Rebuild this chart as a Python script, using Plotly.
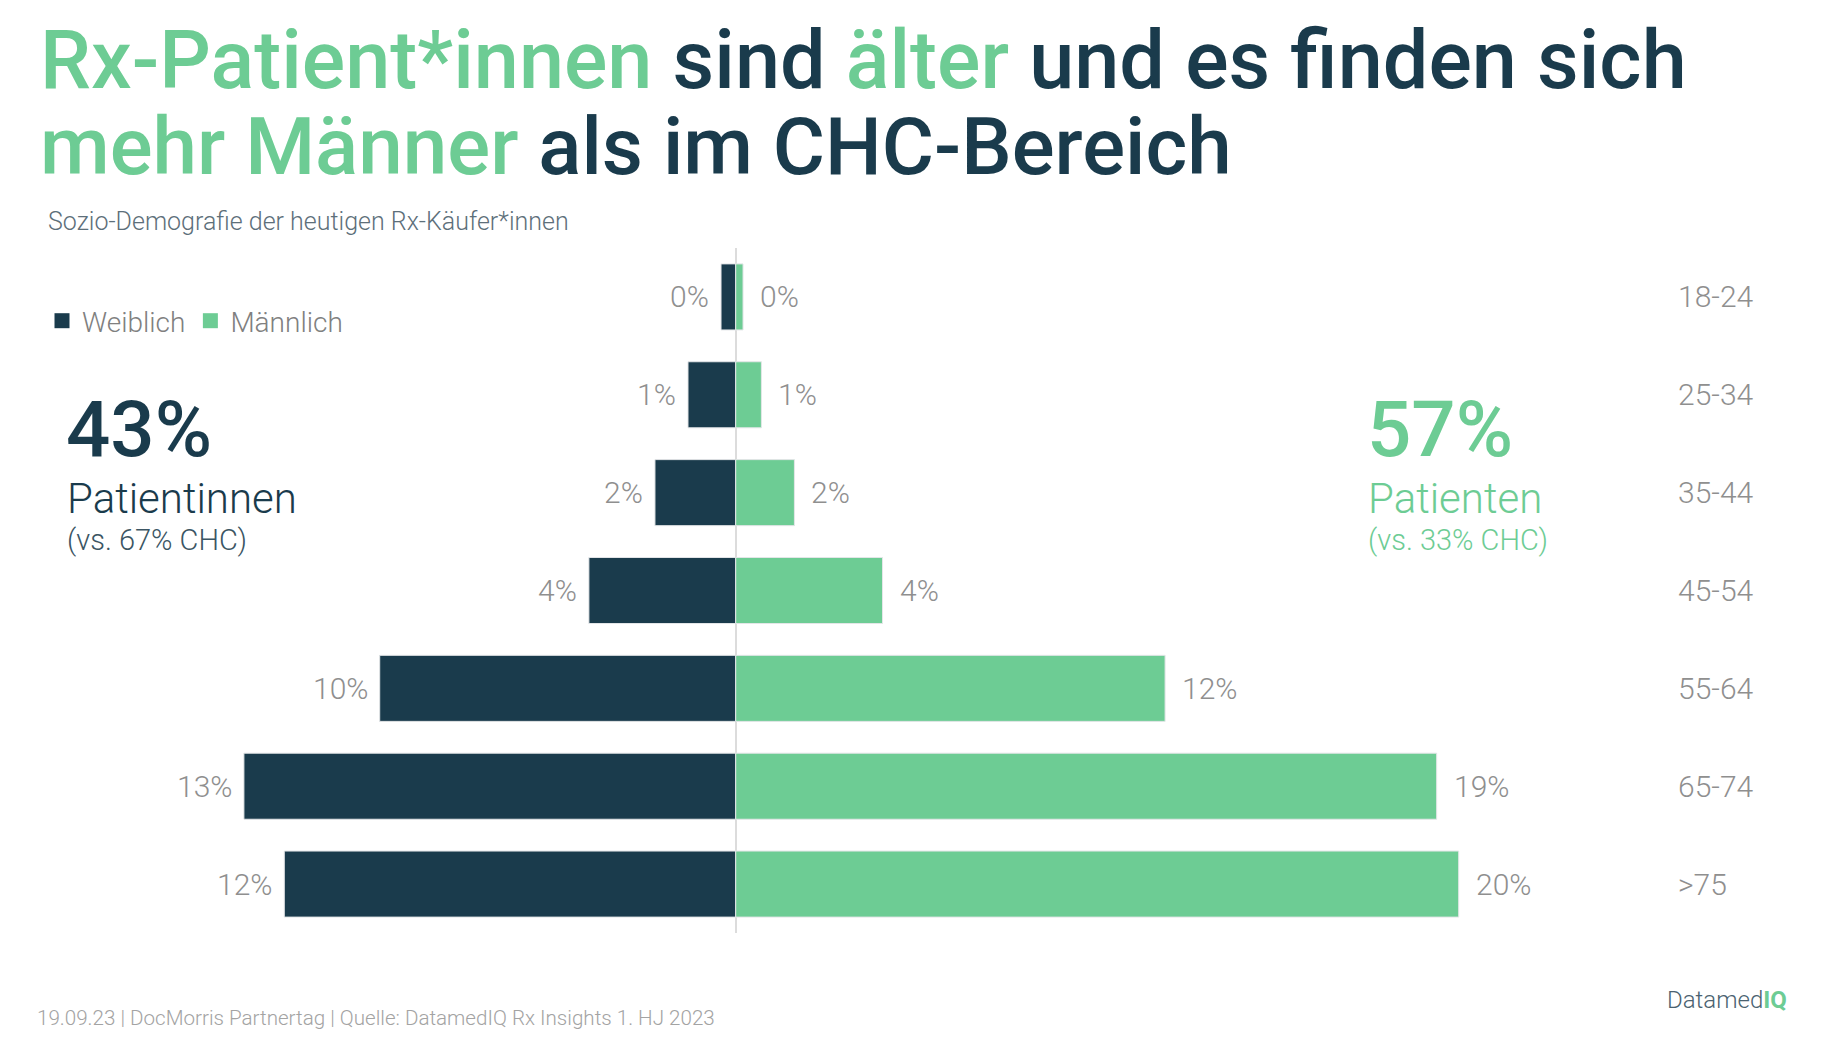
import plotly.graph_objects as go

# ---------------- data ----------------
age_groups = ["18-24", "25-34", "35-44", "45-54", "55-64", "65-74", ">75"]
female_share = [0.4, 1.3, 2.2, 4.0, 9.7, 13.4, 12.3]   # Weiblich, % of Rx patients
male_share = [0.2, 0.7, 1.6, 4.0, 11.7, 19.1, 19.7]    # Männlich, % of Rx patients
series_names = ["Weiblich", "Männlich"]
female_total = 43
male_total = 57
female_chc = 67
male_chc = 33

# ---------------- style ----------------
NAVY = "#1A3B4C"
GREEN = "#6DCC94"
GRAY = "#8f8f8f"
FONT = "Roboto"

OFF = 8                      # browser body margin
PAGE_W, PAGE_H = 1830, 1060
W, H = PAGE_W - 2 * OFF, PAGE_H - 2 * OFF

# plot area in page pixels
P_LEFT, P_RIGHT, P_TOP, P_BOTTOM = 8, 1663, 248, 933
ML = P_LEFT - OFF
MR = W - (P_RIGHT - OFF)
MT = P_TOP - OFF
MB = H - (P_BOTTOM - OFF)
PW = P_RIGHT - P_LEFT
PH = P_BOTTOM - P_TOP
X0_PX = 735.7          # page pixel position of the zero line
PX_PER_PCT = 36.7


def pxx(x):
    return (x - P_LEFT) / PW


def pxy(y):
    return (P_BOTTOM - y) / PH


fig = go.Figure()
colors = [NAVY, GREEN]
for name, vals, sign, col in [(series_names[0], female_share, -1, NAVY),
                              (series_names[1], male_share, 1, GREEN)]:
    fig.add_trace(go.Bar(
        y=age_groups, x=[sign * v for v in vals], orientation="h",
        name=name, legendgroup=name, showlegend=False,
        marker=dict(color=col, line=dict(color="#e4e6e8", width=1)),
        customdata=vals,
        hovertemplate="%{y}: %{customdata}%<extra>" + name + "</extra>",
    ))
# legend entries (square swatches)
for name, col in zip(series_names, colors):
    fig.add_trace(go.Scatter(
        x=[None], y=[None], mode="markers", name=name, legendgroup=name,
        marker=dict(symbol="square", size=15, color=col), hoverinfo="skip",
    ))

annotations = []
label_font = dict(family=FONT, size=30, color=GRAY, weight=300)
for g, v in zip(age_groups, female_share):
    annotations.append(dict(x=-v, y=g, xref="x", yref="y", text=f"{round(v)}%",
                            showarrow=False, xanchor="right", yanchor="middle",
                            xshift=-10, font=label_font))
for g, v in zip(age_groups, male_share):
    annotations.append(dict(x=v, y=g, xref="x", yref="y", text=f"{round(v)}%",
                            showarrow=False, xanchor="left", yanchor="middle",
                            xshift=15, font=label_font))

# title
g1 = f"<span style='color:{GREEN}'>Rx-Patient*innen</span> sind <span style='color:{GREEN}'>älter</span> und es finden sich"
g2 = f"<span style='color:{GREEN}'>mehr Männer</span> als im CHC-Bereich"
title_font = dict(family=FONT, size=81, color=NAVY, weight=500)
annotations.append(dict(x=pxx(38), y=pxy(11), xref="paper", yref="paper", text=g1,
                        showarrow=False, xanchor="left", yanchor="top", font=title_font))
annotations.append(dict(x=pxx(38), y=pxy(98), xref="paper", yref="paper", text=g2,
                        showarrow=False, xanchor="left", yanchor="top",
                        font=dict(family=FONT, size=80, color=NAVY, weight=500)))
annotations.append(dict(x=pxx(46), y=pxy(221), xref="paper", yref="paper",
                        text="Sozio-Demografie der heutigen Rx-Käufer*innen",
                        showarrow=False, xanchor="left", yanchor="middle",
                        font=dict(family=FONT, size=25, color="#5d6f7a", weight=300)))

# totals
annotations.append(dict(x=pxx(64), y=pxy(429), xref="paper", yref="paper",
                        text=f"{female_total}%", showarrow=False, xanchor="left", yanchor="middle",
                        font=dict(family=FONT, size=78, color=NAVY, weight=500)))
annotations.append(dict(x=pxx(65), y=pxy(498), xref="paper", yref="paper",
                        text="Patientinnen", showarrow=False, xanchor="left", yanchor="middle",
                        font=dict(family=FONT, size=42, color=NAVY, weight=300)))
annotations.append(dict(x=pxx(65), y=pxy(540), xref="paper", yref="paper",
                        text=f"(vs. {female_chc}% CHC)", showarrow=False, xanchor="left", yanchor="middle",
                        font=dict(family=FONT, size=29, color="#3b5563", weight=300)))

annotations.append(dict(x=pxx(1365), y=pxy(429), xref="paper", yref="paper",
                        text=f"{male_total}%", showarrow=False, xanchor="left", yanchor="middle",
                        font=dict(family=FONT, size=78, color=GREEN, weight=500)))
annotations.append(dict(x=pxx(1366), y=pxy(498), xref="paper", yref="paper",
                        text="Patienten", showarrow=False, xanchor="left", yanchor="middle",
                        font=dict(family=FONT, size=42, color=GREEN, weight=300)))
annotations.append(dict(x=pxx(1366), y=pxy(540), xref="paper", yref="paper",
                        text=f"(vs. {male_chc}% CHC)", showarrow=False, xanchor="left", yanchor="middle",
                        font=dict(family=FONT, size=29, color=GREEN, weight=300)))

# footer
annotations.append(dict(x=pxx(35), y=pxy(1018), xref="paper", yref="paper",
                        text="19.09.23 | DocMorris Partnertag | Quelle: DatamedIQ Rx Insights 1. HJ 2023",
                        showarrow=False, xanchor="left", yanchor="middle",
                        font=dict(family=FONT, size=20.6, color="#a3a3a3", weight=300)))
annotations.append(dict(x=pxx(1789), y=pxy(1000), xref="paper", yref="paper",
                        text=f"<span style='color:#4a6270'>Datamed</span><b style='color:{GREEN}'>IQ</b>",
                        showarrow=False, xanchor="right", yanchor="middle",
                        font=dict(family=FONT, size=24, weight=300)))

x_lo = -(X0_PX - P_LEFT) / PX_PER_PCT
x_hi = (P_RIGHT - X0_PX) / PX_PER_PCT

fig.update_layout(
    width=W, height=H, autosize=False,
    margin=dict(l=ML, r=MR, t=MT, b=MB, pad=0),
    paper_bgcolor="white", plot_bgcolor="white",
    barmode="relative", bargap=0.325,
    showlegend=True,
    legend=dict(orientation="h", x=pxx(42), y=pxy(321), xanchor="left", yanchor="middle",
                font=dict(family=FONT, size=28, color="#808080", weight=300),
                itemwidth=30, traceorder="normal", bgcolor="rgba(0,0,0,0)"),
    xaxis=dict(range=[x_lo, x_hi], showgrid=False, showticklabels=False, showline=False,
               zeroline=True, zerolinecolor="#dcdcdc", zerolinewidth=2, fixedrange=True),
    yaxis=dict(categoryorder="array", categoryarray=age_groups, autorange="reversed",
               side="right", showgrid=False, showline=False, zeroline=False, ticks="",
               ticklabelstandoff=14,
               tickfont=dict(family=FONT, size=30, color=GRAY, weight=300), fixedrange=True),
    annotations=annotations,
    font=dict(family=FONT),
)

fig.write_html("out.html")
